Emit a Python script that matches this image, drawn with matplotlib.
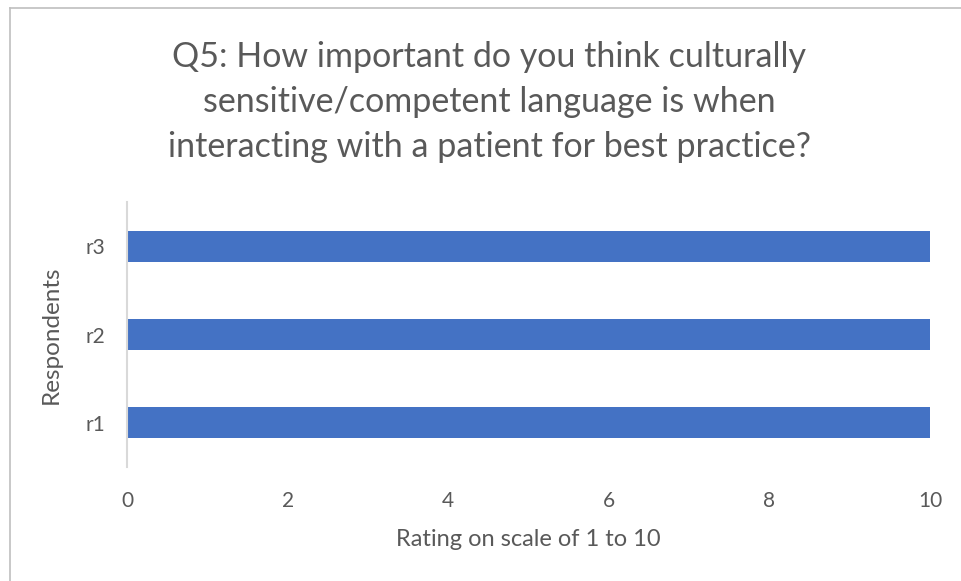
import matplotlib.pyplot as plt
from matplotlib.lines import Line2D

plt.rcParams['font.family'] = ['Lato', 'DejaVu Sans']

respondents = ['r1', 'r2', 'r3']
ratings = [10, 10, 10]
xticks = [0, 2, 4, 6, 8, 10]

title = ('Q5: How important do you think culturally\n'
         'sensitive/competent language is when\n'
         'interacting with a patient for best practice?')

grey = '#595959'

fig = plt.figure(figsize=(9.61, 5.81), dpi=100)
ax = fig.add_axes([0.1322, 0.1962, 0.8356, 0.4561])

ax.barh(respondents, ratings, height=0.35, color='#4472C4')
ax.set_xlim(0, 10)
ax.set_ylim(-0.5, 2.5)
ax.set_xticks(xticks)

for s in ['top', 'right', 'bottom']:
    ax.spines[s].set_visible(False)
ax.spines['left'].set_color('#D9D9D9')
ax.spines['left'].set_linewidth(1.5)
ax.tick_params(length=0, colors=grey, labelsize=15)
ax.tick_params(axis='x', pad=17)
ax.tick_params(axis='y', pad=16)

ax.set_xlabel('Rating on scale of 1 to 10', color=grey, fontsize=17, labelpad=13)
ax.set_ylabel('Respondents', color=grey, fontsize=17.5, labelpad=17)

fig.text(489 / 961, 0.72, title, ha='center', va='bottom', color=grey,
         fontsize=24.5, linespacing=1.5)

# frame edge along the left and top
fig.add_artist(Line2D([10 / 961, 10 / 961], [0, 1 - 8 / 581],
                      color='#BFBFBF', lw=1.2, transform=fig.transFigure))
fig.add_artist(Line2D([10 / 961, 1], [1 - 8 / 581, 1 - 8 / 581],
                      color='#BFBFBF', lw=1.2, transform=fig.transFigure))

fig.savefig('out.png', dpi=100, facecolor='white')
